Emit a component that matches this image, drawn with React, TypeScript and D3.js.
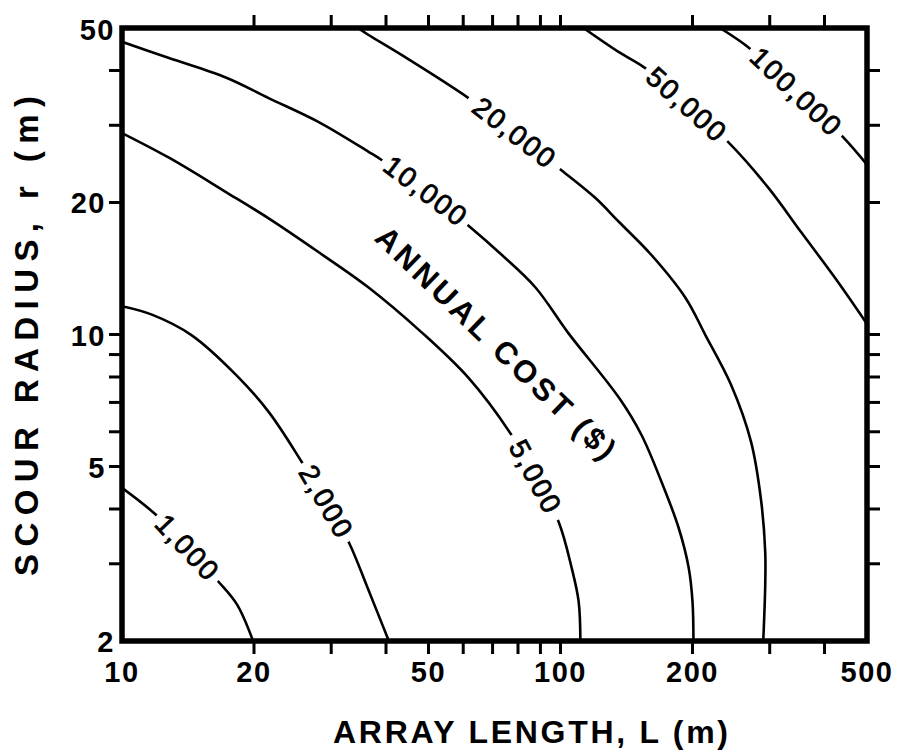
import React from 'react';
import * as d3 from 'd3';

// Axis domains and ticks
const xDomain = [10, 500];
const yDomain = [2, 50];
const xTickLabels = [10, 20, 50, 100, 200, 500];
const xTickMarks = [20, 30, 40, 50, 60, 70, 80, 90, 100, 200, 300, 400];
const yTickLabels = [2, 5, 10, 20, 50];
const yTickMarks = [3, 4, 5, 6, 7, 8, 9, 10, 20, 30, 40];

// Contour lines of annual cost: [L (m), r (m)]
const cost1000 = [[10, 4.47], [11.95, 3.88], [14.1, 3.26], [16.6, 2.73], [18.3, 2.42], [19.9, 2.0]];
const cost2000 = [[10, 11.6], [11.7, 11.1], [14.4, 9.97], [18.2, 8.09], [21.6, 6.66], [25.7, 5.12], [29.2, 4.15], [32.9, 3.36], [36.5, 2.61], [40.6, 2.0]];
const cost5000 = [[10, 28.8], [12.8, 25.3], [17.3, 21.1], [21.6, 18.4], [28.1, 15.4], [36.5, 12.8], [48.3, 10.1], [61.7, 7.96], [77.3, 5.9], [87.7, 4.73], [99, 3.74], [106, 2.94], [110, 2.46], [111, 2.0]];
const cost10000 = [[10, 46.5], [12.8, 42.7], [17.3, 38.5], [21.6, 34.6], [28.1, 30.5], [36.5, 26.1], [39.1, 25.0], [49.3, 21.2], [61.7, 17.7], [73.4, 15.2], [87.7, 12.8], [104, 10.1], [136, 7.17], [153, 5.9], [170, 4.61], [186, 3.62], [196, 2.94], [200, 2.46], [201, 2.0]];
const cost20000 = [[34.5, 50], [36.5, 48.2], [43.4, 43.4], [61.7, 34.6], [78.6, 28.8], [100.5, 23.7], [120, 20.5], [136, 18.05], [161, 15.2], [193, 12.1], [214, 9.97], [245, 7.67], [272, 5.69], [287, 4.15], [293, 3.19], [293, 2.68], [290, 2.0]];
const cost50000 = [[112.8, 50], [135.6, 44.1], [156, 40.5], [194, 33.4], [241, 27.5], [298, 21.6], [354, 17.1], [423, 13.45], [500, 10.57]];
const cost100000 = [[231, 50], [271, 44.8], [345, 35.7], [441, 28.2], [500, 24.4]];

const contourLabels = ['1,000', '2,000', '5,000', '10,000', '20,000', '50,000', '100,000'];
const contourLabelIndex = [2, 6, 9, 7, 4, 3, 2];
const contourSeries = [cost1000, cost2000, cost5000, cost10000, cost20000, cost50000, cost100000];

const annualCostLabel = 'ANNUAL COST ($)';
const annualCostAt = [71.1, 9.56];

const W = 902;
const H = 753;
const left = 122;
const right = 867;
const top = 28;
const bottom = 641;
const FONT = '"Liberation Sans", Arial, Helvetica, sans-serif';

export default function App() {
  const x = d3.scaleLog().domain(xDomain).range([left, right]);
  const y = d3.scaleLog().domain(yDomain).range([bottom, top]);
  const line = d3
    .line<number[]>()
    .x((d) => x(d[0]))
    .y((d) => y(d[1]))
    .curve(d3.curveCatmullRom.alpha(0.5));

  const contours = contourSeries.map((pts, i) => ({
    pts,
    label: contourLabels[i],
    idx: contourLabelIndex[i],
  }));

  const tickLen = 13;

  return (
    <svg
      width={W}
      height={H}
      style={{ position: 'absolute', left: 0, top: 0, background: '#fff' }}
      fontFamily={FONT}
    >
      <rect x={0} y={0} width={W} height={H} fill="#fff" />
      <defs>
        <clipPath id="plotClip">
          <rect x={left} y={top} width={right - left} height={bottom - top} />
        </clipPath>
      </defs>

      {/* contour lines */}
      <g clipPath="url(#plotClip)">
        {contours.map((c, i) => (
          <path key={i} d={line(c.pts) || ''} fill="none" stroke="#000" strokeWidth={2.6} />
        ))}
      </g>

      {/* contour labels */}
      {contours.map((c, i) => {
        const p = c.pts[c.idx];
        const a = c.pts[c.idx - 1];
        const b = c.pts[c.idx + 1];
        const ax = x(a[0]), ay = y(a[1]), bx = x(b[0]), by = y(b[1]);
        const angle = (Math.atan2(by - ay, bx - ax) * 180) / Math.PI;
        const gap = Math.hypot(bx - ax, by - ay);
        return (
          <g key={i} transform={`translate(${x(p[0])},${y(p[1])}) rotate(${angle})`}>
            <rect x={-gap / 2 + 1} y={-11} width={gap - 2} height={22} fill="#fff" />
            <text
              textAnchor="middle"
              dominantBaseline="central"
              fontSize={28}
              letterSpacing={2}
              stroke="#000"
              strokeWidth={0.8}
              fill="#000"
            >
              {c.label}
            </text>
          </g>
        );
      })}

      {/* annual cost label */}
      <text
        transform={`translate(${x(annualCostAt[0])},${y(annualCostAt[1])}) rotate(44)`}
        textAnchor="middle"
        dominantBaseline="central"
        fontSize={31}
        fontWeight="bold"
        textLength={320}
        lengthAdjust="spacing"
      >
        {annualCostLabel}
      </text>

      {/* frame */}
      <rect x={left} y={top} width={right - left} height={bottom - top} fill="none" stroke="#000" strokeWidth={5.5} />

      {/* ticks */}
      <g stroke="#000" strokeWidth={3}>
        {xTickMarks.map((t) => (
          <g key={'x' + t}>
            <line x1={x(t)} x2={x(t)} y1={bottom} y2={bottom + tickLen} />
            <line x1={x(t)} x2={x(t)} y1={top} y2={top - tickLen} />
          </g>
        ))}
        {yTickMarks.map((t) => (
          <g key={'y' + t}>
            <line x1={left} x2={left - tickLen} y1={y(t)} y2={y(t)} />
            <line x1={right} x2={right + tickLen} y1={y(t)} y2={y(t)} />
          </g>
        ))}
      </g>

      {/* tick labels */}
      {xTickLabels.map((t) => (
        <text key={'xl' + t} x={x(t)} y={682} textAnchor="middle" fontSize={29} fontWeight="bold" letterSpacing={1.5}>
          {t}
        </text>
      ))}
      {yTickLabels.map((t) => {
        const hasTick = yTickMarks.includes(t);
        return (
          <text
            key={'yl' + t}
            x={hasTick ? 106 : 115}
            y={y(t) + (t === 50 ? 2 : 1)}
            textAnchor="end"
            dominantBaseline="central"
            fontSize={29}
            fontWeight="bold"
            letterSpacing={1.5}
          >
            {t}
          </text>
        );
      })}

      {/* axis titles */}
      <text x={530.5} y={743} textAnchor="middle" fontSize={32} fontWeight="bold" textLength={395} lengthAdjust="spacing">
        ARRAY LENGTH, L (m)
      </text>
      <text
        transform="translate(38,336) rotate(-90)"
        textAnchor="middle"
        fontSize={33}
        fontWeight="bold"
        textLength={480}
        lengthAdjust="spacing"
      >
        SCOUR RADIUS, r (m)
      </text>
    </svg>
  );
}
